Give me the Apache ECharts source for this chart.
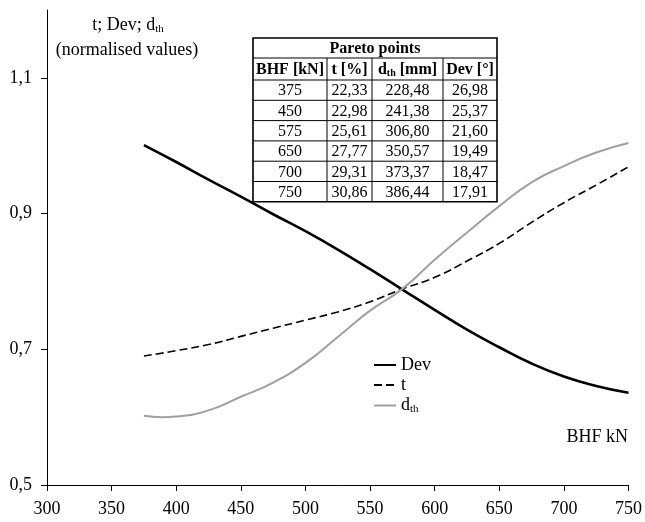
<!DOCTYPE html>
<html><head><meta charset="utf-8">
<script src="https://cdn.jsdelivr.net/npm/echarts@6/dist/echarts.min.js"></script>
<style>html,body{margin:0;padding:0;background:#fff}#c{width:645px;height:522px}</style>
</head><body><div id="c"></div><script>
// Curve data (BHF in kN, normalised values)
const bhfDev = [375,400,425,450,475,500,525,550,575,600,625,650,675,700,725,750];
const devVals = [1.001,0.976,0.950,0.925,0.899,0.874,0.847,0.818,0.788,0.758,0.729,0.703,0.679,0.660,0.646,0.636];
const bhfT = [375,400,425,450,475,500,525,550,575,600,625,650,675,700,725,750];
const tVals = [0.690,0.698,0.707,0.719,0.731,0.743,0.755,0.770,0.789,0.806,0.830,0.856,0.887,0.916,0.942,0.969];
const bhfD = [375,389,400,425,450,475,500,525,550,575,600,625,650,675,700,725,750];
const dVals = [0.602,0.600,0.601,0.610,0.630,0.651,0.680,0.718,0.757,0.789,0.832,0.872,0.911,0.946,0.970,0.990,1.004];
// Axis ticks
const xTicks = [300,350,400,450,500,550,600,650,700,750];
const yTicks = [0.5,0.7,0.9,1.1];
// Pareto table
const paretoBHF = ['375','450','575','650','700','750'];
const paretoT = ['22,33','22,98','25,61','27,77','29,31','30,86'];
const paretoD = ['228,48','241,38','306,80','350,57','373,37','386,44'];
const paretoDev = ['26,98','25,37','21,60','19,49','18,47','17,91'];

const FF = 'Liberation Serif, Times New Roman, serif';
const chart = echarts.init(document.getElementById('c'), null, {renderer:'canvas'});

function zip(xs, ys){ return xs.map((x,i)=>[x, ys[i]]); }

// table graphic
const tLeft = 253, tTop = 38;
const colW = [74,45,71,54];
const rowH = [20,22,20.3,20.3,20.3,20.3,20.3,20.3];
const tW = colW.reduce((a,b)=>a+b,0);
const tH = rowH.reduce((a,b)=>a+b,0);
const tbl = [];
const bold = 'bold 16px ' + FF, reg = '16px ' + FF;
const richBold = {b:{fontFamily:FF,fontWeight:'bold',fontSize:16,fill:'#000'}, s:{fontFamily:FF,fontWeight:'bold',fontSize:10,fill:'#000',padding:[7,0,0,0]}};
tbl.push({type:'rect', shape:{x:tLeft,y:tTop,width:tW,height:tH}, style:{fill:'#fff',stroke:'#000',lineWidth:1.6}});
tbl.push({type:'text', style:{text:'Pareto points', x:tLeft+tW/2, y:tTop+rowH[0]/2+1, textAlign:'center', textVerticalAlign:'middle', font:bold, fill:'#000'}});
let y = tTop + rowH[0];
tbl.push({type:'line', shape:{x1:tLeft,y1:y,x2:tLeft+tW,y2:y}, style:{stroke:'#000',lineWidth:1}});
const headers = ['{b|BHF [kN]}','{b|t [%]}','{b|d}{s|th}{b| [mm]}','{b|Dev [°]}'];
const cols = [paretoBHF, paretoT, paretoD, paretoDev];
let x = tLeft;
for (let c=0;c<colW.length-1;c++){ x += colW[c]; tbl.push({type:'line', shape:{x1:x,y1:y,x2:x,y2:tTop+tH}, style:{stroke:'#000',lineWidth:1}}); }
x = tLeft;
for (let c=0;c<colW.length;c++){
  tbl.push({type:'text', style:{text:headers[c], rich:richBold, x:x+colW[c]/2, y:y+rowH[1]/2+1, textAlign:'center', textVerticalAlign:'middle'}});
  x += colW[c];
}
y += rowH[1];
for (let r=0;r<paretoBHF.length;r++){
  tbl.push({type:'line', shape:{x1:tLeft,y1:y,x2:tLeft+tW,y2:y}, style:{stroke:'#000',lineWidth:1}});
  x = tLeft;
  for (let c=0;c<colW.length;c++){
    tbl.push({type:'text', style:{text:cols[c][r], x:x+colW[c]/2, y:y+rowH[r+2]/2+1, textAlign:'center', textVerticalAlign:'middle', font:reg, fill:'#000'}});
    x += colW[c];
  }
  y += rowH[r+2];
}

const option = {
  backgroundColor:'#fff',
  animation:false,
  grid:{left:47, right:12, top:10, bottom:37, containLabel:false},
  xAxis:{type:'value', min:300, max:750, interval:50,
    axisLine:{lineStyle:{color:'#000',width:1}},
    axisTick:{show:true, length:6, lineStyle:{color:'#000'}},
    axisLabel:{color:'#000', fontFamily:FF, fontSize:18, margin:15},
    splitLine:{show:false}},
  yAxis:{type:'value', min:0.5, max:1.2, interval:0.2,
    axisLine:{show:true, lineStyle:{color:'#000',width:1}},
    axisTick:{show:true, length:6, lineStyle:{color:'#000'}, customValues:yTicks},
    axisLabel:{color:'#000', fontFamily:FF, fontSize:18, margin:15, customValues:yTicks,
      formatter:v=>v.toFixed(1).replace('.',',')},
    splitLine:{show:false}},
  legend:{orient:'vertical', left:373, top:356, padding:0, itemWidth:22, itemHeight:8, itemGap:2,
    itemStyle:{opacity:0},
    data:['Dev','t','dth'],
    formatter:n=> n==='dth' ? '{m|d}{s|th}' : '{m|'+n+'}',
    textStyle:{color:'#000', fontFamily:FF, fontSize:18,
      rich:{m:{fontFamily:FF,fontSize:18,color:'#000',lineHeight:17}, s:{fontFamily:FF,fontSize:11,color:'#000',padding:[8,0,0,0],lineHeight:17}}}},
  graphic:[
    {type:'text', z:100, style:{text:'{m|t; Dev; d}{s|th}', x:128, y:25, textAlign:'center', textVerticalAlign:'middle',
      rich:{m:{fontFamily:FF,fontSize:18,fill:'#000'}, s:{fontFamily:FF,fontSize:11,fill:'#000',padding:[8,0,0,0]}}}},
    {type:'text', z:100, style:{text:'(normalised values)', x:127, y:50, textAlign:'center', textVerticalAlign:'middle', font:'18px '+FF, fill:'#000'}},
    {type:'text', z:100, style:{text:'BHF kN', x:628, y:437, textAlign:'right', textVerticalAlign:'middle', font:'18px '+FF, fill:'#000'}},
    {type:'group', z:100, children:tbl}
  ],
  series:[
    {name:'Dev', type:'line', data:zip(bhfDev, devVals), smooth:true, showSymbol:false, symbol:'none',
      lineStyle:{color:'#000', width:2.6}, itemStyle:{color:'#000'}},
    {name:'t', type:'line', data:zip(bhfT, tVals), smooth:true, showSymbol:false, symbol:'none',
      lineStyle:{color:'#000', width:1.6, type:[8,4]}, itemStyle:{color:'#000'}},
    {name:'dth', type:'line', data:zip(bhfD, dVals), smooth:true, showSymbol:false, symbol:'none',
      lineStyle:{color:'#a0a0a0', width:2}, itemStyle:{color:'#a0a0a0'}}
  ]
};
chart.setOption(option);
</script></body></html>
